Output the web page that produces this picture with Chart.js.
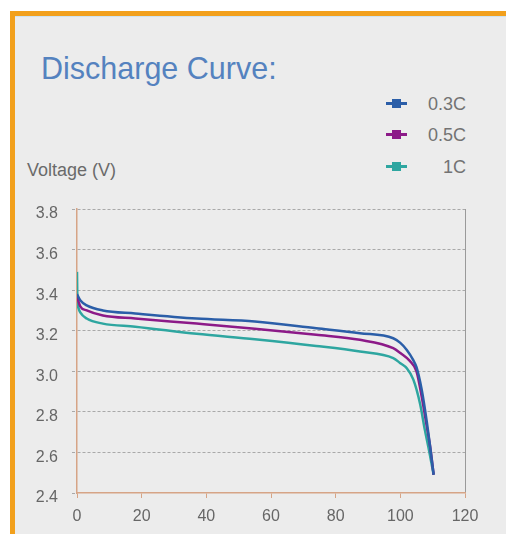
<!DOCTYPE html>
<html>
<head>
<meta charset="utf-8">
<script src="https://cdn.jsdelivr.net/npm/chart.js@4.4.0/dist/chart.umd.min.js"></script>
<style>
    body { margin: 0; background: #ffffff; font-family: "Liberation Sans", Arial, sans-serif; }
    .frame { position: absolute; left: 10px; top: 11px; width: 491px; height: 523px;
             border-top: 5px solid #f2a01c; border-left: 5px solid #f2a01c; background: #ececec;
             box-shadow: inset 0 1px 0 #cfe3f0; }
    .title { position: absolute; left: 41px; top: 53px; font-size: 30.5px; line-height: 1; color: #5482bf; white-space: nowrap; }
    .ylabel { position: absolute; left: 27px; top: 161px; font-size: 18px; line-height: 1; color: #6a6a6a; white-space: nowrap; }
    .legend { position: absolute; left: 380px; top: 0; width: 86px; }
    .legend .row { position: absolute; left: 0; width: 86px; height: 18px; }
    .legend .mark { position: absolute; left: 6px; top: 7px; width: 21px; height: 3px; }
    .legend .mark i { position: absolute; left: 6px; top: -3px; width: 9px; height: 9px; }
    .legend .txt { position: absolute; right: 0; top: 0; font-size: 18px; line-height: 1; color: #737373; }
    #chart { position: absolute; left: 0; top: 0; }
</style>
</head>
<body>
<div class="frame"></div>
<div class="title">Discharge Curve:</div>
<div class="ylabel">Voltage (V)</div>
<div class="legend" id="legend"></div>
<canvas id="chart" width="508" height="534"></canvas>
<script>
// discharge rates
var rateLabels = ["0.3C", "0.5C", "1C"];
var rateColors = ["#2b5ea8", "#8c1a88", "#2ea6a0"];

// capacity (%) / voltage (V)
var capacity03 = [0, 1, 3, 8, 18, 37, 55, 74, 87.5, 97.8, 100, 102, 104, 105, 106.6, 108.1, 109.2, 110.3];
var voltage03 = [3.38, 3.35, 3.325, 3.30, 3.285, 3.26, 3.245, 3.212, 3.188, 3.163, 3.14, 3.105, 3.055, 3.02, 2.91, 2.76, 2.63, 2.49];

var capacity05 = [0, 1, 3, 8, 18, 37, 55, 74, 87.5, 97.8, 100, 103, 105, 106.6, 108.1, 109.3, 110.3];
var voltage05 = [3.37, 3.32, 3.30, 3.275, 3.26, 3.235, 3.21, 3.18, 3.155, 3.114, 3.09, 3.05, 3.0, 2.876, 2.736, 2.62, 2.49];

var capacity1 = [0, 0.1, 0.5, 1, 3, 8, 18, 37, 55, 74, 87.5, 97.8, 100, 102, 104, 106.1, 107.6, 109, 110.3];
var voltage1 = [3.49, 3.37, 3.31, 3.29, 3.26, 3.235, 3.22, 3.185, 3.158, 3.125, 3.097, 3.065, 3.04, 3.015, 2.96, 2.84, 2.71, 2.6, 2.49];

// axes
var xTicks = [0, 20, 40, 60, 80, 100, 120];
var yTicks = [2.4, 2.6, 2.8, 3.0, 3.2, 3.4, 3.6, 3.8];

var capacityList = [capacity03, capacity05, capacity1];
var voltageList = [voltage03, voltage05, voltage1];

function toPoints(xs, ys) {
    var list = [];
    for (var i = 0; i < xs.length; i++) {
        list.push({x: xs[i], y: ys[i]});
    }
    return list;
}

// html legend
var legend = document.getElementById("legend");
var rowTops = [95, 126, 158];
for (var i = 0; i < rateLabels.length; i++) {
    var row = document.createElement("div");
    row.className = "row";
    row.style.top = rowTops[i] + "px";
    row.innerHTML = '<div class="mark" style="background:' + rateColors[i] + '"><i style="background:' + rateColors[i] + '"></i></div>' +
        '<span class="txt">' + rateLabels[i] + '</span>';
    legend.appendChild(row);
}

Chart.defaults.font.family = "'Liberation Sans', Arial, sans-serif";

var datasets = [];
for (var i = 0; i < rateLabels.length; i++) {
    datasets.push({
        label: rateLabels[i],
        data: toPoints(capacityList[i], voltageList[i]),
        borderColor: rateColors[i],
        backgroundColor: rateColors[i],
        borderWidth: 2.5,
        pointRadius: 0,
        fill: false,
        cubicInterpolationMode: "monotone"
    });
}

var chart = new Chart(document.getElementById("chart").getContext("2d"), {
    type: "line",
    data: { datasets: datasets },
    options: {
        responsive: false,
        animation: false,
        layout: { padding: { left: 0, top: 209, right: 43, bottom: 0 } },
        plugins: { legend: { display: false }, tooltip: { enabled: false } },
        scales: {
            x: {
                type: "linear",
                min: xTicks[0],
                max: xTicks[xTicks.length - 1],
                afterFit: function (scale) { scale.height = 41; },
                afterBuildTicks: function (scale) {
                    scale.ticks = xTicks.map(function (v) { return {value: v}; });
                },
                ticks: { color: "#666", font: { size: 16 }, padding: 9, maxRotation: 0 },
                grid: {
                    color: function (ctx) { return ctx.tick && ctx.tick.value === 120 ? "#9a9a9a" : "rgba(0,0,0,0)"; },
                    tickColor: "#d6a486",
                    tickLength: 5
                },
                border: { color: "#d6a486", width: 1.5 }
            },
            y: {
                min: yTicks[0],
                max: yTicks[yTicks.length - 1],
                afterFit: function (scale) { scale.width = 77; },
                afterBuildTicks: function (scale) {
                    scale.ticks = yTicks.map(function (v) { return {value: v}; });
                },
                ticks: {
                    color: "#666",
                    font: { size: 16 },
                    padding: 14,
                    labelOffset: 5,
                    callback: function (v) { return Number(v).toFixed(1); }
                },
                grid: {
                    color: function (ctx) { return ctx.tick && ctx.tick.value === 2.4 ? "rgba(0,0,0,0)" : "#a9a9a9"; },
                    tickColor: "#a9a9a9",
                    tickLength: 5,
                    tickBorderDash: [3, 2]
                },
                // dash here is for the grid lines in v4
                border: { color: "#d6a486", width: 1.5, dash: [3, 2] }
            }
        }
    }
});
</script>
</body>
</html>
